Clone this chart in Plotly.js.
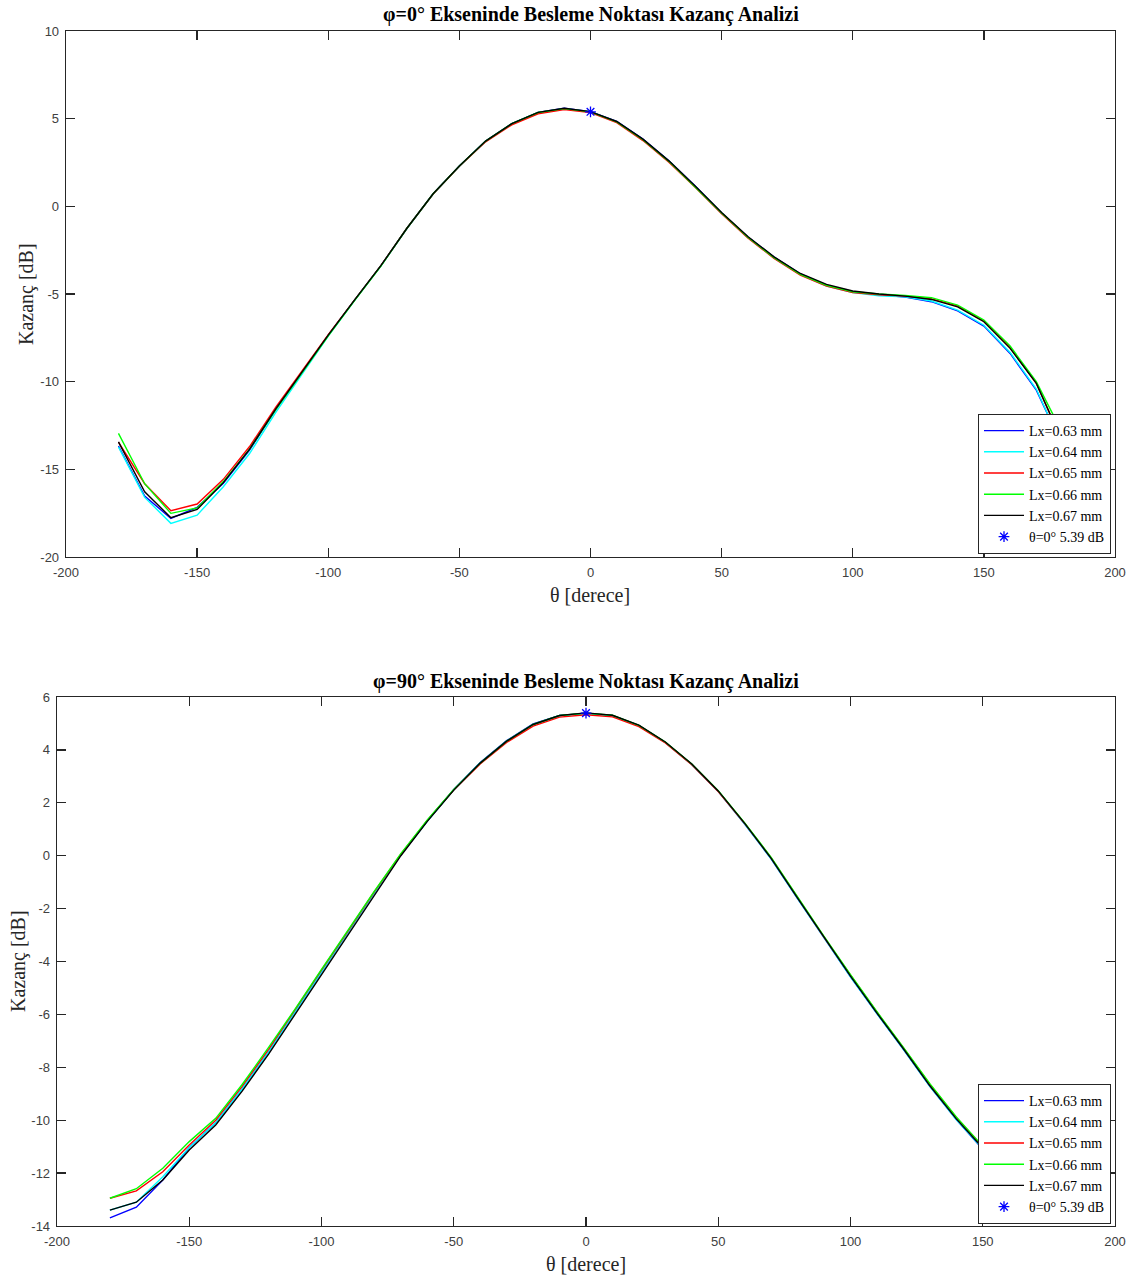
<!DOCTYPE html>
<html>
<head>
<meta charset="utf-8">
<script src="https://cdn.plot.ly/plotly-3.0.1.min.js"></script>
<style>html,body{margin:0;padding:0;background:#fff;}#chart{width:1136px;height:1279px;}</style>
</head>
<body>
<div id="chart"></div>
<script>
// ---- data ----
const theta = [-180,-170,-160,-150,-140,-130,-120,-110,-100,-90,-80,-70,-60,-50,-40,-30,-20,-10,0,10,20,30,40,50,60,70,80,90,100,110,120,130,140,150,160,170,180];

const seriesNames = ["Lx=0.63 mm","Lx=0.64 mm","Lx=0.65 mm","Lx=0.66 mm","Lx=0.67 mm"];
const markerName = "θ=0° 5.39 dB";
const markerTheta = [0];
const markerGain = [5.39];

// phi = 0 deg
const lx063_phi0 = [-13.68,-16.52,-17.8,-17.17,-15.8,-13.9,-11.58,-9.45,-7.35,-5.35,-3.4,-1.25,0.72,2.3,3.72,4.72,5.36,5.59,5.40,4.84,3.83,2.58,1.15,-0.38,-1.75,-2.9,-3.85,-4.5,-4.88,-5.05,-5.18,-5.44,-5.96,-6.83,-8.39,-10.48,-13.68];
const lx064_phi0 = [-13.72,-16.6,-18.08,-17.61,-15.99,-14.1,-11.75,-9.55,-7.4,-5.38,-3.42,-1.27,0.7,2.28,3.7,4.7,5.34,5.57,5.39,4.82,3.8,2.55,1.12,-0.4,-1.78,-2.95,-3.9,-4.55,-4.92,-5.1,-5.16,-5.4,-5.92,-6.78,-8.33,-10.42,-13.72];
const lx065_phi0 = [-13.45,-15.82,-17.36,-16.98,-15.57,-13.7,-11.45,-9.4,-7.32,-5.35,-3.4,-1.25,0.7,2.28,3.68,4.65,5.28,5.52,5.35,4.77,3.75,2.5,1.08,-0.42,-1.8,-2.97,-3.92,-4.55,-4.92,-5.05,-5.12,-5.28,-5.68,-6.55,-8.05,-10.1,-13.45];
const lx066_phi0 = [-12.95,-15.82,-17.51,-17.2,-15.7,-13.85,-11.6,-9.5,-7.38,-5.37,-3.42,-1.25,0.72,2.3,3.72,4.72,5.35,5.57,5.39,4.82,3.8,2.55,1.1,-0.38,-1.76,-2.93,-3.88,-4.5,-4.87,-5.0,-5.08,-5.21,-5.63,-6.49,-7.97,-10.0,-12.95];
const lx067_phi0 = [-13.43,-16.28,-17.76,-17.29,-15.76,-13.85,-11.55,-9.45,-7.35,-5.35,-3.4,-1.25,0.72,2.3,3.72,4.72,5.36,5.59,5.40,4.84,3.83,2.58,1.15,-0.35,-1.72,-2.88,-3.83,-4.45,-4.83,-5.0,-5.12,-5.31,-5.73,-6.58,-8.10,-10.10,-13.43];

// phi = 90 deg
const lx063_phi90 = [-13.69,-13.29,-12.26,-11.03,-10.1,-8.82,-7.42,-5.93,-4.4,-2.9,-1.4,0.03,1.32,2.5,3.52,4.35,4.98,5.3,5.38,5.3,4.92,4.28,3.45,2.43,1.2,-0.12,-1.62,-3.12,-4.58,-5.97,-7.32,-8.72,-9.98,-11.1,-12.25,-13.15,-13.69];
const lx064_phi90 = [-13.4,-13.1,-12.14,-11.03,-10.1,-8.82,-7.42,-5.93,-4.4,-2.9,-1.4,0.03,1.3,2.48,3.5,4.33,4.96,5.29,5.37,5.29,4.92,4.28,3.45,2.43,1.2,-0.12,-1.62,-3.12,-4.58,-5.97,-7.32,-8.72,-9.98,-11.08,-12.2,-13.0,-13.4];
const lx065_phi90 = [-12.95,-12.67,-11.95,-10.94,-10.0,-8.72,-7.32,-5.85,-4.33,-2.85,-1.36,0.06,1.33,2.48,3.47,4.28,4.9,5.24,5.33,5.25,4.88,4.26,3.44,2.43,1.22,-0.08,-1.58,-3.08,-4.52,-5.92,-7.27,-8.65,-9.9,-11.0,-12.0,-12.7,-12.95];
const lx066_phi90 = [-12.95,-12.59,-11.82,-10.81,-9.93,-8.65,-7.25,-5.8,-4.3,-2.82,-1.34,0.08,1.35,2.5,3.5,4.33,4.96,5.3,5.39,5.31,4.93,4.3,3.47,2.46,1.24,-0.06,-1.56,-3.05,-4.5,-5.9,-7.25,-8.62,-9.88,-10.98,-11.95,-12.6,-12.95];
const lx067_phi90 = [-13.4,-13.1,-12.26,-11.13,-10.18,-8.9,-7.5,-6.0,-4.45,-2.95,-1.45,0.0,1.3,2.48,3.5,4.33,4.96,5.3,5.4,5.31,4.94,4.3,3.47,2.45,1.22,-0.1,-1.6,-3.1,-4.55,-5.95,-7.3,-8.7,-9.95,-11.05,-12.15,-12.95,-13.4];

// ticks
const xTickVals = [-200,-150,-100,-50,0,50,100,150,200];
const xTickText = ["-200","-150","-100","-50","0","50","100","150","200"];
const y1TickVals = [-20,-15,-10,-5,0,5,10];
const y1TickText = ["-20","-15","-10","-5","0","5","10"];
const y2TickVals = [-14,-12,-10,-8,-6,-4,-2,0,2,4,6];
const y2TickText = ["-14","-12","-10","-8","-6","-4","-2","0","2","4","6"];

const titleTop = "φ=0° Ekseninde Besleme Noktası Kazanç Analizi";
const titleBottom = "φ=90° Ekseninde Besleme Noktası Kazanç Analizi";
const xTitle = "θ [derece]";
const yTitle = "Kazanç [dB]";

// ---- build ----
(function(){
const colors = ["#0000ff","#00ffff","#ff0000","#00ff00","#000000"];
const W = 1136, H = 1279;
const serif = "Liberation Serif, Times New Roman, serif";
const sans = "Liberation Sans, Arial, sans-serif";

const upperSeries = [lx063_phi0,lx064_phi0,lx065_phi0,lx066_phi0,lx067_phi0];
const lowerSeries = [lx063_phi90,lx064_phi90,lx065_phi90,lx066_phi90,lx067_phi90];

const traces = [];
upperSeries.forEach((ys,i)=>traces.push({x:theta,y:ys,type:"scatter",mode:"lines",name:seriesNames[i],line:{color:colors[i],width:1.4},xaxis:"x",yaxis:"y",legend:"legend"}));
traces.push({x:markerTheta,y:markerGain,type:"scatter",mode:"markers",name:markerName,marker:{symbol:"asterisk-open",size:9,color:"#0000ff",line:{color:"#0000ff",width:1.3}},xaxis:"x",yaxis:"y",legend:"legend"});
lowerSeries.forEach((ys,i)=>traces.push({x:theta,y:ys,type:"scatter",mode:"lines",name:seriesNames[i],line:{color:colors[i],width:1.4},xaxis:"x2",yaxis:"y2",legend:"legend2"}));
traces.push({x:markerTheta,y:markerGain,type:"scatter",mode:"markers",name:markerName,marker:{symbol:"asterisk-open",size:9,color:"#0000ff",line:{color:"#0000ff",width:1.3}},xaxis:"x2",yaxis:"y2",legend:"legend2"});

function axisBase(){
  return {showline:true,linecolor:"#262626",linewidth:1.3,mirror:"ticks",ticks:"inside",ticklen:9,tickwidth:1.3,tickcolor:"#262626",
    showgrid:false,zeroline:false,tickfont:{family:sans,size:13,color:"#404040"},fixedrange:true};
}
const px = v=>v/W, py = v=>1-v/H;

const xa1 = Object.assign(axisBase(),{domain:[px(66),px(1115)],range:[-200,200],tickmode:"array",tickvals:xTickVals,ticktext:xTickText,anchor:"y",ticklabelstandoff:3});
const ya1 = Object.assign(axisBase(),{domain:[py(557),py(31)],range:[-20,10],tickmode:"array",tickvals:y1TickVals,ticktext:y1TickText,anchor:"x",ticklabelstandoff:3});
const xa2 = Object.assign(axisBase(),{domain:[px(57),px(1115)],range:[-200,200],tickmode:"array",tickvals:xTickVals,ticktext:xTickText,anchor:"y2",ticklabelstandoff:3});
const ya2 = Object.assign(axisBase(),{domain:[py(1226),py(697)],range:[-14,6],tickmode:"array",tickvals:y2TickVals,ticktext:y2TickText,anchor:"x2",ticklabelstandoff:3});

const legendBase = {xref:"paper",yref:"paper",xanchor:"right",yanchor:"bottom",bgcolor:"#ffffff",bordercolor:"#262626",borderwidth:1,
  font:{family:serif,size:14,color:"#000"},tracegroupgap:0,itemwidth:40};

const annotations = [
  {text:"<b>"+titleTop+"</b>",x:px(591),y:py(14),xref:"paper",yref:"paper",showarrow:false,xanchor:"center",yanchor:"middle",font:{family:serif,size:20,color:"#000"}},
  {text:"<b>"+titleBottom+"</b>",x:px(586),y:py(681),xref:"paper",yref:"paper",showarrow:false,xanchor:"center",yanchor:"middle",font:{family:serif,size:20,color:"#000"}},
  {text:xTitle,x:px(590),y:py(595),xref:"paper",yref:"paper",showarrow:false,xanchor:"center",yanchor:"middle",font:{family:serif,size:20,color:"#262626"}},
  {text:xTitle,x:px(586),y:py(1264),xref:"paper",yref:"paper",showarrow:false,xanchor:"center",yanchor:"middle",font:{family:serif,size:20,color:"#262626"}},
  {text:yTitle,x:px(26),y:py(294),xref:"paper",yref:"paper",showarrow:false,xanchor:"center",yanchor:"middle",textangle:-90,font:{family:serif,size:20,color:"#262626"}},
  {text:yTitle,x:px(18),y:py(961),xref:"paper",yref:"paper",showarrow:false,xanchor:"center",yanchor:"middle",textangle:-90,font:{family:serif,size:20,color:"#262626"}}
];

const layout = {
  width:W,height:H,margin:{l:0,r:0,t:0,b:0,pad:0},paper_bgcolor:"#fff",plot_bgcolor:"#fff",
  showlegend:true,
  xaxis:xa1,yaxis:ya1,xaxis2:xa2,yaxis2:ya2,
  legend:Object.assign({},legendBase,{x:px(1111),y:py(554)}),
  legend2:Object.assign({},legendBase,{x:px(1111),y:py(1224)}),
  annotations:annotations
};

Plotly.newPlot("chart",traces,layout,{staticPlot:true,displayModeBar:false});
})();
</script>
</body>
</html>
